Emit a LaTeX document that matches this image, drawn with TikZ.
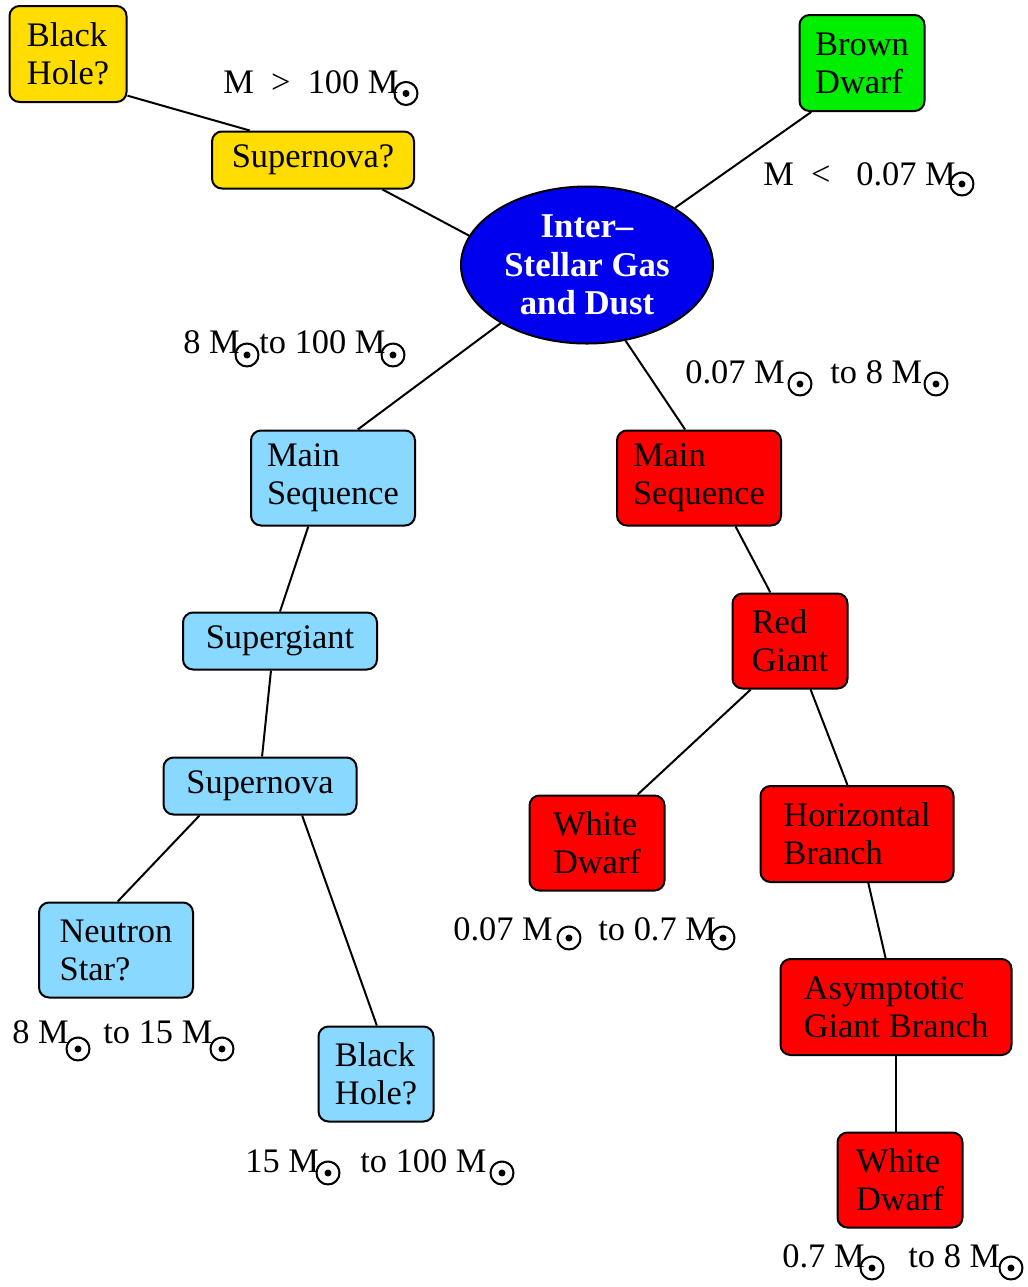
\documentclass[tikz,border=0pt]{standalone}
\usepackage{fontspec}
\setmainfont{Liberation Serif}
\newfontfamily\symf[FakeBold=2.5]{DejaVu Sans}
\usetikzlibrary{shapes.geometric}
\definecolor{cyel}{HTML}{FFDD00}
\definecolor{cgreen}{HTML}{00EE00}
\definecolor{cblue}{HTML}{0000EE}
\definecolor{clblue}{HTML}{88D8FF}
\definecolor{cred}{HTML}{FF0000}
\begin{document}
\begin{tikzpicture}[x=0.5pt,y=-0.5pt,
  box/.style={draw=black, line width=1pt, rounded corners=5pt, align=left,
    font=\fontsize{17.2}{19}\selectfont, inner sep=0pt},
  lbl/.style={anchor=base west, inner sep=0pt, font=\fontsize{17.2}{19}\selectfont},
  sunsym/.style={inner sep=0pt, font=\symf\fontsize{16.5}{16.5}\selectfont},
  edge/.style={draw=black, line width=1pt}]
\useasboundingbox (0,0) rectangle (1028,1287);
% nodes
\node[box, fill=cyel, minimum width=58.5pt, minimum height=48pt] (bh1) at (68,54) {Black\\Hole?};
\node[box, fill=cyel, minimum width=101pt, minimum height=28.5pt] (sn1) at (313,160) {Supernova?};
\node[box, fill=cgreen, minimum width=62.5pt, minimum height=48pt] (bd) at (862,63) {Brown\\Dwarf};
\node[ellipse, draw=black, line width=1pt, fill=cblue, text=white, align=center,
  minimum width=126pt, minimum height=78.5pt, inner sep=0pt,
  font=\bfseries\fontsize{17.4}{19.25}\selectfont] (ism) at (587,265) {Inter--\\Stellar Gas\\and Dust};
\node[box, fill=clblue, minimum width=82pt, minimum height=47.5pt] (ms1) at (333,478) {Main\\Sequence};
\node[box, fill=cred, minimum width=82pt, minimum height=47.5pt] (ms2) at (699,478) {Main\\Sequence};
\node[box, fill=clblue, minimum width=97pt, minimum height=28.5pt] (sg) at (280,641) {Supergiant};
\node[box, fill=cred, minimum width=57.5pt, minimum height=47.5pt] (rg) at (790,641) {Red\\Giant};
\node[box, fill=clblue, minimum width=96.5pt, minimum height=28.5pt] (sn2) at (260,786) {Supernova};
\node[box, fill=cred, minimum width=67.5pt, minimum height=47.5pt] (wd1) at (597,843) {White\\Dwarf};
\node[box, fill=cred, minimum width=96.5pt, minimum height=48pt] (hb) at (857,834) {Horizontal\\Branch};
\node[box, fill=clblue, minimum width=77pt, minimum height=47.5pt] (ns) at (116,950) {Neutron\\Star?};
\node[box, fill=clblue, minimum width=57.5pt, minimum height=47.5pt] (bh2) at (376,1074) {Black\\Hole?};
\node[box, fill=cred, minimum width=115.5pt, minimum height=48pt] (agb) at (896,1007) {Asymptotic\\Giant Branch};
\node[box, fill=cred, minimum width=62.5pt, minimum height=47.5pt] (wd2) at (900,1180) {White\\Dwarf};
% edges
\draw[edge] (bh1.-35) -- (sn1.155);
\draw[edge] (sn1.-23) -- (ism.166);
\draw[edge] (ism.33) -- (bd.-136);
\draw[edge] (ism.214) -- (ms1.63);
\draw[edge] (ism.-63) -- (ms2.106);
\draw[edge] (ms1.-117) -- (sg.90);
\draw[edge] (sg.-107) -- (sn2.86);
\draw[edge] (sn2.206) -- (ns.88);
\draw[edge] (sn2.-35) -- (bh2.89);
\draw[edge] (ms2.-53) -- (rg.112);
\draw[edge] (rg.231) -- (wd1.50);
\draw[edge] (rg.-67) -- (hb.101);
\draw[edge] (hb.-77) -- (agb.102);
\draw[edge] (agb.-90) -- (agb.-90 |- wd2.north);
% labels
\node[lbl] (l1) at (223,93) {M~~>~~100 M};
\node[sunsym] (s1) at (406,93.5) {☉};
\node[lbl] (l2) at (763,185) {M~~<~~~0.07 M};
\node[sunsym] (s2) at (962,184) {☉};
\node[lbl] (l3a) at (183,353) {8 M};
\node[sunsym] (s3) at (247,355) {☉};
\node[lbl] (l3b) at (259,353) {to 100 M};
\node[sunsym] (s4) at (393,355) {☉};
\node[lbl] (l4a) at (685,383) {0.07 M};
\node[sunsym] (s5) at (800,384) {☉};
\node[lbl] (l4b) at (830,383) {to 8 M};
\node[sunsym] (s6) at (936,384) {☉};
\node[lbl] (l5a) at (453,940) {0.07 M};
\node[sunsym] (s7) at (569,938) {☉};
\node[lbl] (l5b) at (598,940) {to 0.7 M};
\node[sunsym] (s8) at (723,938) {☉};
\node[lbl] (l6a) at (12,1043) {8 M};
\node[sunsym] (s9) at (78,1049) {☉};
\node[lbl] (l6b) at (103,1043) {to 15 M};
\node[sunsym] (s10) at (222,1049) {☉};
\node[lbl] (l7a) at (245,1172) {15 M};
\node[sunsym] (s11) at (328,1173) {☉};
\node[lbl] (l7b) at (360,1172) {to 100 M};
\node[sunsym] (s12) at (502,1173) {☉};
\node[lbl] (l8a) at (782,1267) {0.7 M};
\node[sunsym] (s13) at (872,1268) {☉};
\node[lbl] (l8b) at (908,1267) {to 8 M};
\node[sunsym] (s14) at (1011,1268) {☉};
\end{tikzpicture}
\end{document}
